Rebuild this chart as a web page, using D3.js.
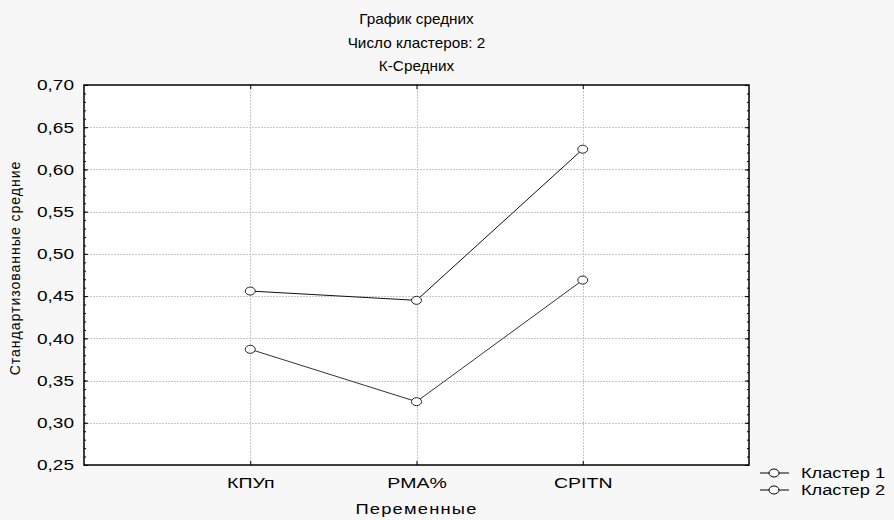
<!DOCTYPE html>
<html>
<head>
<meta charset="utf-8">
<script src="https://cdn.jsdelivr.net/npm/d3@7"></script>
<style>
  body { margin: 0; background: #f7f7f7; }
  svg { display: block; font-family: "Liberation Sans", Arial, sans-serif; }
</style>
</head>
<body>
<svg id="chart" width="894" height="520"></svg>
<script>
// данные
const categories = ["КПУп", "PMA%", "CPITN"];
const cluster1 = [0.456, 0.445, 0.624];
const cluster2 = [0.387, 0.325, 0.469];
const seriesNames = ["Кластер 1", "Кластер 2"];
const yTicks = [0.25, 0.30, 0.35, 0.40, 0.45, 0.50, 0.55, 0.60, 0.65, 0.70];
const titleLines = ["График средних", "Число кластеров: 2", "К-Средних"];

const svg = d3.select("#chart");
const pL = 84, pR = 749, pT = 85, pB = 465;
const FONT = "'Liberation Sans', Arial, sans-serif";

const x = d3.scaleLinear().domain([0, categories.length + 1]).range([pL, pR]);
const y = d3.scaleLinear().domain([0.25, 0.70]).range([pB, pT]);

// растянуть текст по горизонтали (картинка-образец широкая)
const stretch = (sel, k) => sel.each(function() {
  const w = this.getComputedTextLength();
  d3.select(this).attr("textLength", w * k).attr("lengthAdjust", "spacingAndGlyphs");
});

// фон области построения
svg.append("rect")
  .attr("x", pL).attr("y", pT)
  .attr("width", pR - pL).attr("height", pB - pT)
  .attr("fill", "#fff");

// сетка
const grid = svg.append("g").attr("stroke", "#c8c8c8").attr("stroke-dasharray", "2,1").attr("stroke-width", 1);
grid.selectAll("line.h")
  .data(yTicks.slice(1, -1))
  .enter().append("line")
  .attr("x1", pL).attr("x2", pR)
  .attr("y1", d => Math.round(y(d)) + 0.5).attr("y2", d => Math.round(y(d)) + 0.5);
grid.selectAll("line.v")
  .data(categories)
  .enter().append("line")
  .attr("y1", pT).attr("y2", pB)
  .attr("x1", (d, i) => Math.round(x(i + 1)) + 0.5).attr("x2", (d, i) => Math.round(x(i + 1)) + 0.5);

// оси
const minor = d3.range(25, 71).map(v => v / 100);
const yLeft = svg.append("g").attr("transform", `translate(${pL},0)`)
  .call(d3.axisLeft(y).tickValues(yTicks).tickSize(-4).tickPadding(10)
    .tickFormat(d => d3.format(".2f")(d).replace(".", ",")));
yLeft.selectAll("text").attr("font-size", 15).attr("fill", "#000")
  .attr("font-family", FONT).call(stretch, 1.27);
yLeft.select(".domain").remove();
yLeft.selectAll("line").attr("stroke", "#000");

svg.append("g").attr("transform", `translate(${pL},0)`)
  .call(d3.axisLeft(y).tickValues(minor).tickSize(-2).tickFormat(""))
  .call(g => g.select(".domain").remove());
svg.append("g").attr("transform", `translate(${pR},0)`)
  .call(d3.axisRight(y).tickValues(minor).tickSize(-2).tickFormat(""))
  .call(g => g.select(".domain").remove());
svg.append("g").attr("transform", `translate(${pR},0)`)
  .call(d3.axisRight(y).tickValues(yTicks).tickSize(-4).tickFormat(""))
  .call(g => g.select(".domain").remove());

const xBottom = svg.append("g").attr("transform", `translate(0,${pB})`)
  .call(d3.axisBottom(x).tickValues([1, 2, 3]).tickSize(-4).tickPadding(12)
    .tickFormat(d => categories[d - 1]));
xBottom.select(".domain").remove();
xBottom.selectAll("text").attr("font-size", 15).attr("fill", "#000")
  .attr("font-family", FONT).call(stretch, 1.3);
svg.append("g").attr("transform", `translate(0,${pT})`)
  .call(d3.axisTop(x).tickValues([1, 2, 3]).tickSize(-4).tickFormat(""))
  .call(g => g.select(".domain").remove());

svg.append("rect")
  .attr("x", pL).attr("y", pT)
  .attr("width", pR - pL).attr("height", pB - pT)
  .attr("fill", "none").attr("stroke", "#000").attr("stroke-width", 1.5);

// линии и точки
const line = d3.line().x((d, i) => x(i + 1)).y(d => y(d));
[cluster1, cluster2].forEach((vals, k) => {
  svg.append("path").datum(vals)
    .attr("d", line).attr("fill", "none")
    .attr("stroke", k === 0 ? "#111" : "#333").attr("stroke-width", 1);
  svg.selectAll(null).data(vals).enter().append("ellipse")
    .attr("cx", (d, i) => x(i + 1)).attr("cy", d => y(d))
    .attr("rx", 5).attr("ry", 4)
    .attr("fill", "#fff").attr("stroke", "#222").attr("stroke-width", 1);
});

// заголовок
svg.append("g").selectAll("text").data(titleLines).enter().append("text")
  .attr("x", (pL + pR) / 2).attr("y", (d, i) => 24 + i * 23.5)
  .attr("text-anchor", "middle").attr("font-size", 15).attr("fill", "#000")
  .attr("font-family", "'Liberation Sans Narrow', 'Liberation Sans', sans-serif")
  .text(d => d)
  .call(stretch, 1.02);

// подписи осей
svg.append("text")
  .attr("transform", `translate(20,268) rotate(-90)`)
  .attr("text-anchor", "middle").attr("font-size", 14).attr("fill", "#000")
  .attr("letter-spacing", 1)
  .text("Стандартизованные средние");
svg.append("text")
  .attr("x", (pL + pR) / 2).attr("y", 514)
  .attr("text-anchor", "middle").attr("font-size", 15).attr("fill", "#000")
  .attr("letter-spacing", 1)
  .text("Переменные")
  .call(stretch, 1.22);

// легенда
const legend = svg.append("g").attr("transform", "translate(760,473)");
const items = legend.selectAll("g").data(seriesNames).enter().append("g")
  .attr("transform", (d, i) => `translate(0,${i * 17})`);
items.append("line").attr("x1", 0).attr("x2", 29).attr("stroke", "#000");
items.append("ellipse").attr("cx", 14).attr("rx", 5).attr("ry", 4)
  .attr("fill", "#fff").attr("stroke", "#000");
items.append("text").attr("x", 41).attr("y", 5)
  .attr("font-size", 14).attr("fill", "#000")
  .text(d => d)
  .call(stretch, 1.3);
</script>
</body>
</html>
